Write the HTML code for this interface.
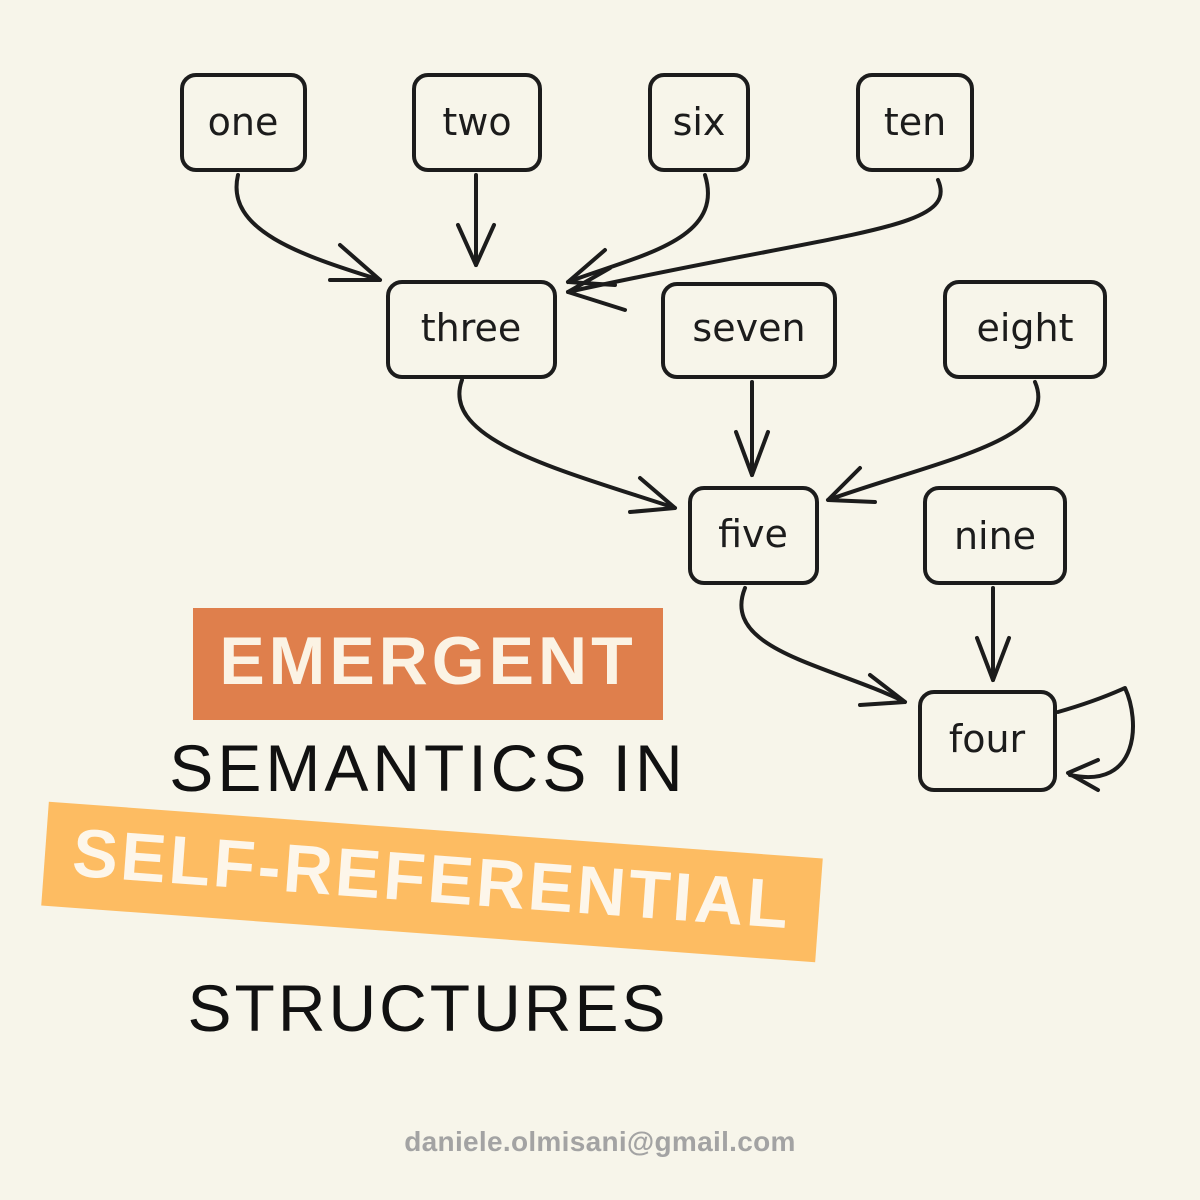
<!DOCTYPE html>
<html><head><meta charset="utf-8"><style>
body{margin:0;width:1200px;height:1200px;background:#f7f5ea;position:relative;overflow:hidden;font-family:"Liberation Sans",sans-serif}
.t{position:absolute;white-space:nowrap}
</style></head><body>
<svg width="1200" height="1200" style="position:absolute;left:0;top:0" fill="none" stroke="#1c1c1c" stroke-width="4" stroke-linecap="round" stroke-linejoin="round">
<g>
<rect x="182" y="75" width="123" height="95" rx="14"/>
<rect x="414" y="75" width="126" height="95" rx="14"/>
<rect x="650" y="75" width="98" height="95" rx="14"/>
<rect x="858" y="75" width="114" height="95" rx="14"/>
<rect x="388" y="282" width="167" height="95" rx="14"/>
<rect x="663" y="284" width="172" height="93" rx="14"/>
<rect x="945" y="282" width="160" height="95" rx="14"/>
<rect x="690" y="488" width="127" height="95" rx="14"/>
<rect x="925" y="488" width="140" height="95" rx="14"/>
<rect x="920" y="692" width="135" height="98" rx="14"/>
</g>
<g font-family="DejaVu Sans, sans-serif" font-size="38" fill="#1c1c1c" stroke="none" text-anchor="middle">
<text x="243" y="135">one</text>
<text x="477" y="135">two</text>
<text x="699" y="135">six</text>
<text x="915" y="135">ten</text>
<text x="471" y="341">three</text>
<text x="749" y="341">seven</text>
<text x="1025" y="341">eight</text>
<text x="753" y="547">five</text>
<text x="995" y="549">nine</text>
<text x="987" y="752">four</text>
</g>
<path d="M238 175 C225 230 300 255 380 280"/><path d="M340 245 L380 280 L330 280"/>
<path d="M476 175 L476 265"/><path d="M458 225 L476 265 L494 225"/>
<path d="M705 175 C725 240 640 255 568 282"/><path d="M605 250 L568 282 L615 285"/>
<path d="M938 180 C960 230 850 230 568 292"/><path d="M610 268 L568 292 L625 310"/>
<path d="M462 380 C440 440 560 470 675 508"/><path d="M640 478 L675 508 L630 512"/>
<path d="M752 382 L752 475"/><path d="M736 432 L752 475 L768 432"/>
<path d="M1035 382 C1060 440 940 460 828 500"/><path d="M860 468 L828 500 L875 502"/>
<path d="M993 588 L993 680"/><path d="M977 638 L993 680 L1009 638"/>
<path d="M745 588 C720 650 830 665 905 702"/><path d="M870 675 L905 702 L860 705"/>
<path d="M1058 712 C1100 700 1120 690 1125 688 C1140 720 1140 790 1070 775"/><path d="M1098 760 L1068 773 L1098 790"/>
</svg>
<div style="position:absolute;left:193px;top:608px;width:470px;height:112px;background:#df7f4c"></div>
<div class="t" style="left:193px;top:622px;width:470px;text-align:center;color:#fbf3e4;font-weight:bold;font-size:68px;letter-spacing:4px">EMERGENT</div>
<div class="t" style="left:128px;top:730px;width:600px;text-align:center;font-size:66px;letter-spacing:4px;color:#111">SEMANTICS IN</div>
<div style="position:absolute;left:44px;top:830px;width:776px;height:104px;background:#fdbc62;transform:rotate(4.2deg);transform-origin:center"></div>
<div class="t" style="left:44px;top:840px;width:776px;text-align:center;color:#fdf6ea;font-weight:bold;font-size:68px;letter-spacing:3px;transform:rotate(4.2deg)">SELF-REFERENTIAL</div>
<div class="t" style="left:128px;top:970px;width:600px;text-align:center;font-size:66px;letter-spacing:3px;color:#111">STRUCTURES</div>
<div class="t" style="left:300px;top:1126px;width:600px;text-align:center;color:#a3a3a3;font-weight:bold;font-size:28px;letter-spacing:0.3px">daniele.olmisani@gmail.com</div>
</body></html>
